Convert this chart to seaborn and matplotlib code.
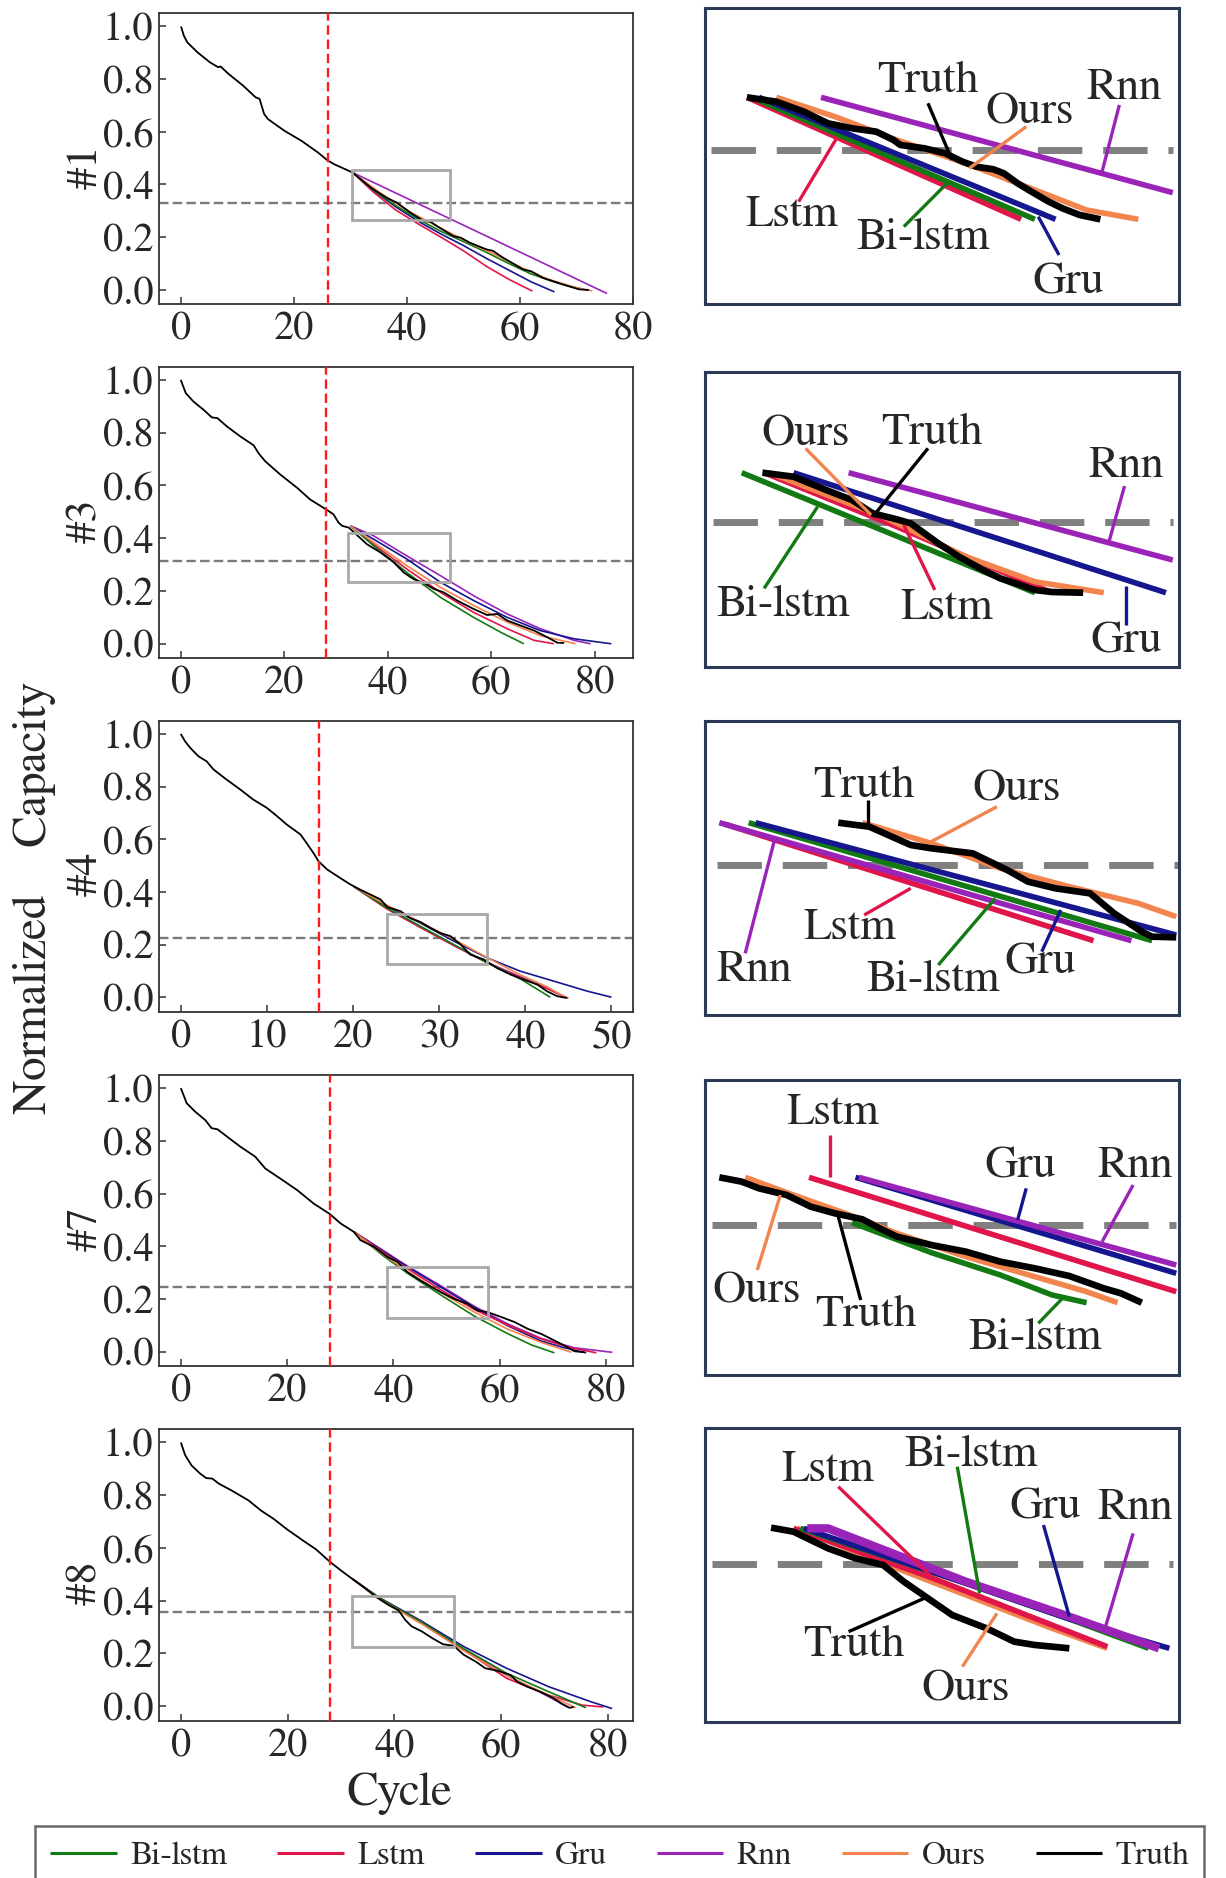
import matplotlib
matplotlib.use("Agg")
import matplotlib.pyplot as plt
import seaborn as sns
from matplotlib.lines import Line2D
from matplotlib.patches import Rectangle

# ---------------- data ----------------
SERIES = ["Bi-lstm", "Lstm", "Gru", "Rnn", "Ours", "Truth"]
COLORS = {"Bi-lstm": "#137a13", "Lstm": "#e0164a", "Gru": "#16168f",
          "Rnn": "#9b24b8", "Ours": "#f2844e", "Truth": "#000000"}
PANEL_NAMES = ["#1", "#3", "#4", "#7", "#8"]

# main panels: (cycle, normalized capacity)
P1_TRUTH = [(0, 1.0), (0.5, 0.965), (1.1, 0.94), (2.9, 0.902), (5.1, 0.864), (6.6, 0.845), (7.0, 0.848),
            (8.4, 0.82), (11.0, 0.775), (13.2, 0.731), (13.9, 0.725), (14.7, 0.668), (15.4, 0.648),
            (18.3, 0.604), (21.3, 0.566), (24.2, 0.522), (25.9, 0.492), (27.1, 0.477), (30.4, 0.445),
            (33.6, 0.388), (36.5, 0.348), (38.2, 0.331), (40.6, 0.293), (42.9, 0.262), (44.2, 0.258),
            (45.3, 0.242), (48.2, 0.204), (49.5, 0.198), (51.1, 0.179), (54.0, 0.154), (55.2, 0.148),
            (57.0, 0.122), (60.5, 0.078), (62.0, 0.070), (64.0, 0.046), (67.5, 0.021), (70.4, 0.002),
            (72.2, -0.001)]
P1_RNN = [(30.4, 0.445), (52.0, 0.225), (75.4, -0.014)]
P1_OURS = [(30.4, 0.445), (35, 0.372), (40, 0.302), (45, 0.245), (50, 0.19), (55, 0.14), (60, 0.087),
           (65, 0.04), (70, 0.008), (72.8, -0.004)]
P1_BILSTM = [(30.4, 0.445), (34, 0.38), (38, 0.32), (42, 0.268), (46, 0.222), (50, 0.183), (54, 0.143),
             (58, 0.1), (62, 0.06), (66, 0.03), (69, 0.012), (71, 0.003)]
P1_GRU = [(30.4, 0.445), (34, 0.378), (38, 0.315), (42, 0.26), (46, 0.212), (50, 0.168), (54, 0.12),
          (58, 0.075), (62, 0.03), (66.1, -0.008)]
P1_LSTM = [(30.4, 0.445), (34, 0.372), (38, 0.303), (42, 0.25), (46, 0.2), (50, 0.148), (54, 0.09),
           (58, 0.04), (62.2, -0.005)]

P2_TRUTH = [(0, 1.0), (0.97, 0.95), (2.45, 0.918), (4.4, 0.887), (6.0, 0.858), (7.1, 0.855), (8.9, 0.824),
            (11.5, 0.786), (14.1, 0.752), (15.0, 0.723), (16.3, 0.692), (19.2, 0.642), (22.5, 0.591),
            (25.0, 0.547), (28.1, 0.509), (29.5, 0.491), (30.5, 0.459), (31.2, 0.447), (32.5, 0.44),
            (36.0, 0.377), (38.6, 0.346), (41.2, 0.308), (43.1, 0.27), (45.0, 0.245), (47.0, 0.23),
            (48.9, 0.208), (50.8, 0.195), (53.4, 0.164), (56.6, 0.132), (59.2, 0.109), (61.2, 0.113),
            (63.1, 0.088), (65.7, 0.069), (68.3, 0.05), (70.8, 0.025), (72.8, 0.004), (74.1, 0.003)]
P2_RNN = [(32.8, 0.447), (37.3, 0.409), (43.7, 0.333), (50.2, 0.258), (56.6, 0.182), (63.1, 0.113),
          (69.5, 0.057), (76.0, 0.013), (79.2, 0.0)]
P2_GRU = [(32.8, 0.447), (37.3, 0.396), (43.7, 0.321), (50.2, 0.233), (56.6, 0.164), (63.1, 0.1),
          (69.5, 0.05), (76.0, 0.019), (83.2, 0.0)]
P2_OURS = [(32.8, 0.447), (37.3, 0.384), (43.7, 0.296), (50.2, 0.214), (56.6, 0.145), (63.1, 0.082),
           (69.5, 0.031), (76.3, 0.0)]
P2_LSTM = [(32.8, 0.447), (37.3, 0.377), (43.7, 0.283), (50.2, 0.195), (56.6, 0.119), (63.1, 0.057),
           (68.3, 0.013), (72.1, 0.0)]
P2_BILSTM = [(32.8, 0.447), (37.3, 0.371), (43.7, 0.27), (50.2, 0.176), (56.6, 0.1), (61.8, 0.044),
             (66.3, 0.0)]

P3_TRUTH = [(0, 1.0), (0.5, 0.972), (1.1, 0.947), (2.05, 0.915), (3.0, 0.896), (3.8, 0.865), (5.3, 0.827),
            (6.9, 0.789), (8.4, 0.751), (10.0, 0.719), (11.2, 0.687), (12.3, 0.656), (13.9, 0.618),
            (14.6, 0.586), (15.4, 0.548), (16.0, 0.516), (17.0, 0.485), (18.5, 0.453), (19.7, 0.428),
            (20.8, 0.409), (22.4, 0.384), (23.2, 0.371), (24.0, 0.342), (25.5, 0.327), (26.6, 0.301),
            (27.8, 0.286), (29.0, 0.263), (30.1, 0.244), (31.3, 0.232), (32.5, 0.2), (33.6, 0.162),
            (35.2, 0.143), (36.7, 0.111), (38.3, 0.086), (39.8, 0.067), (41.4, 0.048), (42.5, 0.023),
            (43.7, 0.004), (44.8, -0.003)]
P3_GRU = [(20.1, 0.42), (23.9, 0.346), (27.8, 0.282), (31.7, 0.213), (35.6, 0.149), (39.4, 0.099),
          (43.3, 0.061), (47.2, 0.023), (50.0, 0.0)]
P3_RNN = [(20.1, 0.42), (23.9, 0.338), (27.8, 0.268), (31.7, 0.198), (35.6, 0.132), (39.4, 0.078),
          (42.5, 0.035), (44.8, -0.003)]
P3_LSTM = [(20.1, 0.42), (23.9, 0.336), (27.8, 0.265), (31.7, 0.196), (35.6, 0.13), (39.4, 0.075),
           (42.5, 0.033), (45.0, -0.004)]
P3_BILSTM = [(20.1, 0.42), (23.9, 0.34), (27.8, 0.27), (31.7, 0.2), (35.6, 0.13), (39.4, 0.07),
             (42.9, 0.0)]
P3_OURS = [(20.1, 0.42), (23.9, 0.35), (27.8, 0.285), (31.7, 0.22), (35.6, 0.15), (39.4, 0.085),
           (42.5, 0.04), (44.8, -0.003)]

P4_TRUTH = [(0, 1.0), (0.5, 0.975), (1.1, 0.943), (2.7, 0.911), (4.6, 0.879), (5.8, 0.848), (6.9, 0.844),
            (8.7, 0.816), (11.2, 0.778), (14.0, 0.74), (15.9, 0.695), (18.7, 0.657), (21.9, 0.613),
            (25.0, 0.562), (28.05, 0.522), (30.1, 0.486), (32.6, 0.454), (33.8, 0.423), (36.4, 0.397),
            (38.9, 0.359), (40.8, 0.34), (42.6, 0.302), (44.5, 0.277), (47.0, 0.247), (48.9, 0.226),
            (51.4, 0.2), (54.0, 0.181), (55.8, 0.156), (57.7, 0.15), (60.3, 0.131), (62.8, 0.112),
            (65.3, 0.086), (67.8, 0.067), (70.3, 0.042), (72.8, 0.016), (74.1, 0.001), (76.0, -0.003)]
P4_RNN = [(32.6, 0.454), (38, 0.385), (42.6, 0.325), (48.9, 0.25), (55.2, 0.172), (61.5, 0.105),
          (67.8, 0.05), (74.1, 0.014), (81.2, -0.003)]
P4_GRU = [(32.6, 0.454), (38, 0.382), (42.6, 0.322), (48.9, 0.245), (55.2, 0.168), (61.5, 0.098),
          (67.8, 0.04), (72, 0.015), (76.3, -0.005)]
P4_LSTM = [(32.6, 0.454), (38, 0.378), (42.6, 0.315), (48.9, 0.235), (55.2, 0.16), (61.5, 0.1),
           (67.8, 0.048), (73, 0.016), (78.2, -0.005)]
P4_OURS = [(32.6, 0.454), (38, 0.37), (42.6, 0.305), (48.9, 0.225), (55.2, 0.15), (61.5, 0.085),
           (67.8, 0.035), (73.5, -0.003)]
P4_BILSTM = [(32.6, 0.454), (38, 0.365), (42.6, 0.298), (48.9, 0.215), (55.2, 0.135), (61.5, 0.068),
             (66, 0.025), (70.3, -0.005)]

P5_TRUTH = [(0, 1.0), (0.8, 0.952), (2.0, 0.913), (3.6, 0.882), (4.75, 0.865), (5.9, 0.863), (7.1, 0.844),
            (9.5, 0.818), (12.7, 0.78), (15.0, 0.742), (17.4, 0.71), (19.8, 0.672), (22.96, 0.627),
            (25.3, 0.595), (27.95, 0.547), (30.1, 0.513), (32.1, 0.483), (34.0, 0.455), (36.4, 0.417),
            (38.8, 0.385), (40.8, 0.363), (42.0, 0.328), (43.2, 0.303), (45.1, 0.284), (47.1, 0.258),
            (49.1, 0.235), (51.1, 0.229), (53.0, 0.195), (55.4, 0.167), (57.0, 0.144), (59.4, 0.134),
            (61.8, 0.118), (63.0, 0.093), (64.9, 0.074), (67.3, 0.055), (69.7, 0.032), (71.3, 0.01),
            (72.8, -0.006), (73.6, -0.003)]
P5_GRU = [(32.1, 0.483), (37.2, 0.411), (45.1, 0.322), (53.0, 0.226), (61.0, 0.144), (68.9, 0.074),
          (76.8, 0.017), (80.8, -0.009)]
P5_LSTM = [(32.1, 0.483), (37.2, 0.408), (45.1, 0.316), (53.0, 0.214), (61.0, 0.106), (68.9, 0.042),
           (75.2, 0.004), (79.2, -0.003)]
P5_BILSTM = [(32.1, 0.483), (37.2, 0.41), (45.1, 0.318), (53.0, 0.218), (61.0, 0.125), (68.9, 0.055),
             (75.9, -0.006)]
P5_RNN = [(32.1, 0.483), (37.2, 0.411), (45.1, 0.322), (53.0, 0.214), (61.0, 0.118), (68.9, 0.036),
          (72.7, -0.006)]
P5_OURS = [(32.1, 0.483), (37.2, 0.405), (45.1, 0.312), (53.0, 0.21), (61.0, 0.116), (68.9, 0.042),
           (74.0, -0.006)]

PRED_START = [26.0, 28.1, 16.0, 28.05, 27.95]        # red dashed line (cycle)
THRESHOLD = [0.331, 0.3145, 0.225, 0.245, 0.357]     # gray dashed line (capacity)
ZOOM_BOX = [(30.2, 0.264, 47.6, 0.454), (32.3, 0.235, 52.0, 0.421), (23.9, 0.128, 35.6, 0.316),
            (38.9, 0.128, 57.9, 0.321), (32.1, 0.226, 51.2, 0.417)]
XTICKS = [[0, 20, 40, 60, 80], [0, 20, 40, 60, 80], [0, 10, 20, 30, 40, 50],
          [0, 20, 40, 60, 80], [0, 20, 40, 60, 80]]
YTICKS = [0.0, 0.2, 0.4, 0.6, 0.8, 1.0]

MAIN = [
    {"Truth": P1_TRUTH, "Rnn": P1_RNN, "Ours": P1_OURS, "Bi-lstm": P1_BILSTM, "Gru": P1_GRU, "Lstm": P1_LSTM},
    {"Truth": P2_TRUTH, "Rnn": P2_RNN, "Ours": P2_OURS, "Bi-lstm": P2_BILSTM, "Gru": P2_GRU, "Lstm": P2_LSTM},
    {"Truth": P3_TRUTH, "Rnn": P3_RNN, "Ours": P3_OURS, "Bi-lstm": P3_BILSTM, "Gru": P3_GRU, "Lstm": P3_LSTM},
    {"Truth": P4_TRUTH, "Rnn": P4_RNN, "Ours": P4_OURS, "Bi-lstm": P4_BILSTM, "Gru": P4_GRU, "Lstm": P4_LSTM},
    {"Truth": P5_TRUTH, "Rnn": P5_RNN, "Ours": P5_OURS, "Bi-lstm": P5_BILSTM, "Gru": P5_GRU, "Lstm": P5_LSTM},
]

# zoomed insets (schematic frame coordinates, y downward)
I1_RNN = [(380, 292), (1400, 578)]
I1_OURS = [(250, 292), (420, 350), (600, 420), (800, 490), (1000, 570), (1150, 630), (1300, 658)]
I1_TRUTH = [(165, 292), (250, 305), (330, 335), (400, 370), (470, 385), (540, 395), (590, 420), (610, 435),
            (680, 445), (740, 460), (790, 485), (830, 500), (880, 508), (910, 520), (950, 550), (990, 575),
            (1040, 605), (1080, 625), (1130, 645), (1190, 658)]
I1_LSTM = [(165, 292), (960, 658)]
I1_BILSTM = [(180, 292), (1000, 658)]
I1_GRU = [(200, 292), (1060, 658)]

I2_BILSTM = [(150, 338), (1000, 698)]
I2_LSTM = [(215, 338), (600, 500), (800, 590), (1050, 698)]
I2_TRUTH = [(210, 338), (300, 350), (400, 392), (470, 420), (530, 460), (600, 478), (640, 490), (680, 520),
            (720, 550), (780, 590), (850, 630), (900, 655), (950, 672), (1000, 690), (1050, 696), (1140, 698)]
I2_OURS = [(230, 338), (560, 470), (800, 590), (1000, 665), (1200, 698)]
I2_GRU = [(300, 338), (1380, 698)]
I2_RNN = [(460, 338), (1400, 600)]

I3_RNN = [(85, 368), (1280, 722)]
I3_LSTM = [(100, 372), (1170, 722)]
I3_BILSTM = [(170, 368), (1340, 722)]
I3_GRU = [(190, 368), (1410, 705)]
I3_TRUTH = [(430, 368), (520, 380), (640, 435), (700, 445), (820, 460), (870, 485), (920, 510), (980, 545),
            (1060, 565), (1160, 580), (1230, 640), (1310, 695), (1340, 710), (1410, 712)]
I3_OURS = [(500, 368), (700, 430), (900, 505), (1100, 560), (1300, 610), (1410, 650)]

I4_TRUTH = [(85, 322), (150, 335), (200, 355), (280, 375), (350, 410), (420, 430), (500, 448), (550, 475),
            (600, 500), (700, 525), (800, 545), (900, 575), (1000, 595), (1100, 618), (1200, 655),
            (1250, 670), (1310, 698)]
I4_OURS = [(160, 322), (300, 375), (450, 430), (600, 490), (800, 560), (1000, 620), (1150, 665), (1240, 698)]
I4_BILSTM = [(470, 458), (700, 548), (900, 615), (1050, 675), (1150, 698)]
I4_LSTM = [(345, 322), (1410, 665)]
I4_GRU = [(480, 322), (1410, 610)]
I4_RNN = [(490, 322), (1410, 585)]

I5_TRUTH = [(235, 338), (300, 350), (400, 400), (480, 430), (560, 450), (620, 500), (690, 550), (760, 600),
            (860, 640), (940, 680), (1000, 690), (1100, 700)]
I5_OURS = [(310, 340), (500, 420), (700, 500), (900, 580), (1050, 640), (1210, 700)]
I5_LSTM = [(300, 340), (700, 488), (1000, 610), (1210, 695)]
I5_BILSTM = [(320, 340), (800, 505), (1100, 612), (1330, 700)]
I5_GRU = [(330, 340), (800, 505), (1100, 612), (1390, 700)]
I5_RNN = [(340, 340), (400, 340), (800, 500), (1100, 605), (1360, 700)]

INSETS = [
    {"Rnn": I1_RNN, "Ours": I1_OURS, "Truth": I1_TRUTH, "Lstm": I1_LSTM, "Bi-lstm": I1_BILSTM, "Gru": I1_GRU},
    {"Bi-lstm": I2_BILSTM, "Lstm": I2_LSTM, "Truth": I2_TRUTH, "Ours": I2_OURS, "Gru": I2_GRU, "Rnn": I2_RNN},
    {"Lstm": I3_LSTM, "Rnn": I3_RNN, "Bi-lstm": I3_BILSTM, "Gru": I3_GRU, "Ours": I3_OURS, "Truth": I3_TRUTH},
    {"Ours": I4_OURS, "Bi-lstm": I4_BILSTM, "Truth": I4_TRUTH, "Lstm": I4_LSTM, "Gru": I4_GRU, "Rnn": I4_RNN},
    {"Ours": I5_OURS, "Lstm": I5_LSTM, "Bi-lstm": I5_BILSTM, "Gru": I5_GRU, "Rnn": I5_RNN, "Truth": I5_TRUTH},
]
INSET_DASH_Y = [450, 487, 495, 465, 448]

# ---------------- layout ----------------
W, H = 1226, 1878
MAIN_BOX = [(13.3, 304.3), (366.7, 658.3), (720.7, 1011.7), (1075.0, 1366.0), (1429.3, 1720.7)]
MAIN_XLIM = [(-3.9, 80.0), (-4.2, 87.4), (-2.52, 52.5), (-4.1, 85.1), (-4.1, 84.7)]
INSET_BOX = [(8.3, 304.0), (371.7, 666.7), (720.7, 1015.0), (1080.0, 1375.0), (1427.7, 1722.3)]
INSET_FRAME_Y = [(912, 25), (920, 35), (945, 62), (915, 30), (922, 38)]
INSET_DASH_X = [(60, 1400), (68, 1400), (78, 1418), (65, 1410), (65, 1400)]
# label: (series, text x, text y, leader x0, y0, x1, y1) in inset frame coords
INSET_LABELS = [
    [("Truth", 690, 245, 690, 310, 760, 480), ("Ours", 985, 340, 975, 380, 810, 505),
     ("Rnn", 1260, 265, 1245, 315, 1195, 515), ("Lstm", 295, 645, 315, 605, 425, 415),
     ("Bi-lstm", 675, 715, 620, 680, 750, 545), ("Gru", 1095, 850, 1070, 765, 1010, 650)],
    [("Ours", 335, 225, 335, 265, 525, 465), ("Truth", 700, 220, 690, 265, 530, 470),
     ("Rnn", 1265, 320, 1260, 378, 1215, 545), ("Bi-lstm", 270, 735, 215, 685, 370, 440),
     ("Lstm", 745, 745, 710, 690, 620, 495), ("Gru", 1265, 845, 1265, 795, 1265, 678)],
    [("Truth", 505, 260, 515, 300, 515, 378), ("Ours", 948, 270, 890, 320, 690, 430),
     ("Lstm", 465, 685, 505, 645, 640, 565), ("Rnn", 185, 810, 160, 760, 245, 420),
     ("Bi-lstm", 705, 840, 720, 795, 885, 595), ("Gru", 1015, 790, 1020, 755, 1075, 630)],
    [("Lstm", 415, 130, 405, 195, 405, 322), ("Gru", 958, 290, 975, 355, 950, 450),
     ("Rnn", 1290, 290, 1285, 345, 1195, 515), ("Ours", 192, 665, 195, 600, 262, 375),
     ("Truth", 510, 735, 495, 690, 430, 440), ("Bi-lstm", 1000, 805, 1010, 760, 1080, 685)],
    [("Lstm", 400, 165, 430, 215, 705, 490), ("Bi-lstm", 815, 120, 775, 155, 840, 535),
     ("Gru", 1030, 280, 1025, 330, 1100, 605), ("Rnn", 1290, 280, 1285, 355, 1205, 635),
     ("Truth", 475, 690, 460, 650, 690, 545), ("Ours", 800, 825, 790, 755, 890, 595)],
]

# ---------------- style ----------------
sns.set_theme(style="white")
plt.rcParams["font.family"] = ["FreeSerif", "Liberation Serif", "DejaVu Serif"]
plt.rcParams["lines.solid_capstyle"] = "butt"
plt.rcParams["lines.solid_joinstyle"] = "round"

fig = plt.figure(figsize=(W / 100, H / 100), dpi=100)


def px_axes(l, t, r, b):
    return fig.add_axes([l / W, 1 - b / H, (r - l) / W, (b - t) / H])


def draw(ax, pts, color, lw, zorder=2):
    xs = [p[0] for p in pts]
    ys = [p[1] for p in pts]
    sns.lineplot(x=xs, y=ys, ax=ax, color=color, linewidth=lw, sort=False,
                 estimator=None, legend=False, zorder=zorder)


# main panels
for i in range(5):
    top, bot = MAIN_BOX[i]
    ax = px_axes(159, top, 633, bot)
    data = MAIN[i]
    for name in ["Rnn", "Gru", "Lstm", "Bi-lstm", "Ours"]:
        draw(ax, data[name], COLORS[name], 1.2)
    draw(ax, data["Truth"], COLORS["Truth"], 1.3, zorder=3)
    ax.axvline(PRED_START[i], color="#ff1a1a", ls="--", lw=1.7, dashes=(4, 2), zorder=4)
    ax.axhline(THRESHOLD[i], color="#7a7a7a", ls="--", lw=1.7, dashes=(4, 1.8), zorder=1)
    x0, y0, x1, y1 = ZOOM_BOX[i]
    ax.add_patch(Rectangle((x0, y0), x1 - x0, y1 - y0, fill=False, edgecolor="#a8a8a8", lw=2.0, zorder=5))
    ax.set_xlim(*MAIN_XLIM[i])
    ax.set_ylim(-0.055, 1.05)
    ax.set_xticks(XTICKS[i])
    ax.set_xticklabels([str(t) for t in XTICKS[i]])
    ax.set_yticks(YTICKS)
    ax.set_yticklabels([f"{t:.1f}" for t in YTICKS])
    ax.set_xlabel("")
    ax.set_ylabel("")
    ax.tick_params(direction="in", length=5, width=1.1, labelsize=29, color="#333333",
                   bottom=True, left=True, top=False, right=False)
    ax.tick_params(axis="x", pad=5)
    ax.tick_params(axis="y", pad=4)
    for sp in ax.spines.values():
        sp.set_color("#333333")
        sp.set_linewidth(1.3)
    fig.text(86 / W, 1 - ((top + bot) / 2 + 8) / H, PANEL_NAMES[i], rotation=90,
             ha="center", va="center", fontsize=32)

# insets
for i in range(5):
    top, bot = INSET_BOX[i]
    ax = px_axes(704.5, top, 1179, bot)
    ax.set_xlim(42, 1418)
    ax.set_ylim(*INSET_FRAME_Y[i])
    dx0, dx1 = INSET_DASH_X[i]
    ax.plot([dx0, dx1], [INSET_DASH_Y[i]] * 2, color="#808080", lw=5, dashes=(6.4, 3), zorder=1)
    for name, pts in INSETS[i].items():
        lw = 4.8 if name == "Truth" else 4.0
        if name == "Rnn" and i == 4:
            lw = 6.0
        draw(ax, pts, COLORS[name], lw, zorder=3 if name == "Truth" else 2)
    for (name, tx, ty, lx0, ly0, lx1, ly1) in INSET_LABELS[i]:
        ax.plot([lx0, lx1], [ly0, ly1], color=COLORS[name], lw=2.4, zorder=4)
        ax.text(tx, ty, name, ha="center", va="center", fontsize=33, zorder=5)
    ax.set_xticks([])
    ax.set_yticks([])
    ax.set_xlabel("")
    ax.set_ylabel("")
    for sp in ax.spines.values():
        sp.set_color("#2d3a56")
        sp.set_linewidth(2.2)

fig.text(34 / W, 1 - 898 / H, "Normalized    Capacity", rotation=90, ha="center", va="center", fontsize=34)
fig.text(399 / W, 1 - 1794 / H, "Cycle", ha="center", va="center", fontsize=34)

handles = [Line2D([0], [0], color=COLORS[s], lw=2.2) for s in SERIES]
leg = fig.legend(handles, SERIES, loc="upper left", bbox_to_anchor=(35 / W, 1 - 1826 / H), ncol=6,
                 frameon=True, fancybox=False, fontsize=24, handlelength=2.0, handletextpad=0.4,
                 columnspacing=1.5, borderpad=0.45, borderaxespad=0)
leg.get_frame().set_edgecolor("#444444")
leg.get_frame().set_linewidth(1.8)

fig.savefig("out.png", dpi=100)
